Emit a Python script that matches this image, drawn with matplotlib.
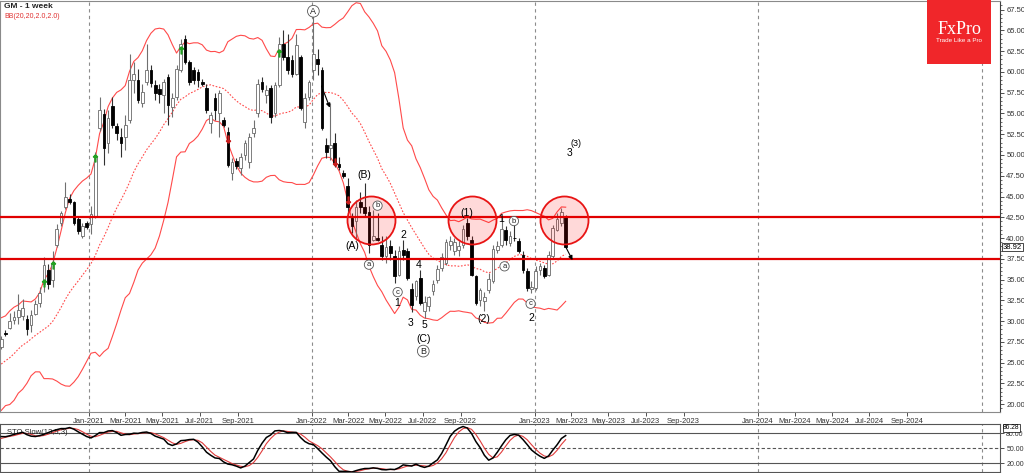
import numpy as np
import pandas as pd
import matplotlib
matplotlib.use("Agg")
import matplotlib.pyplot as plt
import matplotlib.dates as mdates

plt.rcParams['font.family'] = ['Liberation Sans', 'DejaVu Sans']

# ---------------- data (weekly GM bars) ----------------
first_week = "2020-08-10"
opens = [26.9, 28.5, 29.2, 30.1, 30.5, 30.6, 30.3, 29.5, 30.9, 32.2,
         34.5, 36.1, 34.9, 39.2, 41.8, 43.7, 44.7, 44.3, 42.3, 40.3,
         41.8, 41.7, 42.6, 53.2, 54.9, 51.4, 55.9, 53.5, 52.2, 52.2,
         54.2, 59.0, 59.0, 56.2, 58.8, 60.2, 58.4, 57.9, 57.2, 59.4,
         55.8, 57.0, 60.2, 63.9, 61.2, 60.2, 60.0, 58.8, 58.1, 53.8,
         56.8, 55.0, 54.2, 52.8, 47.8, 49.3, 48.4, 50.0, 49.2, 52.6,
         55.0, 58.8, 57.2, 58.1, 55.0, 58.4, 63.4, 61.8, 61.4, 59.8,
         61.8, 54.0, 57.0, 60.2, 61.6, 60.2, 51.2, 50.8, 51.5, 48.9,
         47.8, 46.3, 42.4, 42.0, 44.4, 43.7, 43.1, 39.8, 40.0, 39.2,
         37.8, 39.0, 37.8, 35.6, 38.6, 38.5, 33.9, 33.0, 35.2, 31.2,
         31.8, 33.6, 35.0, 36.4, 37.0, 39.2, 38.4, 38.6, 39.2, 41.8,
         39.8, 35.4, 32.6, 32.4, 33.8, 34.8, 38.6, 39.2, 41.0, 39.4,
         40.0, 39.6, 38.0, 36.0, 33.9, 34.0, 36.2, 36.4, 35.6, 37.9,
         41.0, 41.8, 42.6]
highs = [28.2, 28.9, 31.0, 31.2, 33.3, 32.7, 30.7, 31.3, 32.5, 34.1,
         37.7, 36.9, 38.5, 41.7, 43.3, 46.7, 45.3, 44.5, 42.5, 41.8,
         42.1, 43.9, 50.3, 57.0, 55.5, 55.4, 57.0, 53.9, 53.2, 54.8,
         62.2, 61.2, 60.4, 58.6, 63.4, 60.8, 59.0, 58.6, 59.2, 59.8,
         57.4, 60.8, 64.0, 64.4, 61.4, 60.6, 60.4, 59.2, 58.6, 55.2,
         57.4, 57.8, 54.6, 53.4, 49.6, 49.6, 50.2, 51.8, 52.6, 54.2,
         59.2, 59.4, 58.4, 58.4, 58.8, 64.2, 65.0, 64.6, 62.0, 64.6,
         62.0, 57.4, 59.0, 67.2, 62.8, 60.6, 52.0, 56.2, 52.6, 49.8,
         48.2, 47.2, 43.0, 44.6, 45.6, 46.6, 43.8, 43.4, 43.0, 40.2,
         40.2, 39.8, 38.6, 39.0, 39.8, 38.8, 34.6, 35.0, 36.1, 33.0,
         33.0, 34.9, 36.7, 38.2, 39.9, 40.2, 40.0, 39.6, 41.6, 42.4,
         40.2, 35.6, 34.0, 33.5, 35.8, 39.2, 39.6, 42.6, 41.4, 40.8,
         41.6, 40.0, 38.4, 36.4, 34.8, 36.6, 37.0, 36.8, 38.4, 41.6,
         43.0, 43.6, 42.8]
lows = [26.6, 28.2, 29.0, 29.6, 29.7, 30.1, 28.3, 28.7, 30.7, 31.7,
        33.5, 33.9, 34.1, 38.9, 41.4, 43.5, 44.1, 41.6, 40.5, 40.0,
        41.1, 40.5, 42.4, 52.9, 48.8, 50.2, 53.2, 51.8, 49.8, 50.6,
        53.8, 57.4, 56.2, 55.8, 58.4, 58.2, 56.6, 56.2, 55.0, 53.6,
        54.6, 56.6, 60.0, 60.9, 58.4, 58.6, 58.2, 58.3, 55.0, 52.6,
        54.2, 52.2, 53.4, 48.6, 47.0, 48.3, 47.6, 49.4, 48.4, 52.2,
        54.6, 57.6, 56.2, 53.8, 54.6, 58.2, 61.4, 59.8, 59.4, 59.6,
        55.4, 53.2, 56.6, 59.0, 59.6, 53.0, 49.6, 49.4, 48.6, 48.2,
        47.2, 43.0, 40.6, 39.8, 43.0, 42.6, 38.2, 39.6, 39.6, 37.4,
        37.0, 37.4, 34.6, 35.4, 37.4, 35.0, 31.1, 32.6, 32.0, 30.4,
        31.2, 33.2, 34.6, 36.0, 36.8, 38.6, 38.0, 37.8, 38.8, 39.8,
        35.4, 31.9, 31.8, 31.2, 33.4, 34.6, 38.2, 38.9, 39.2, 39.0,
        39.7, 38.2, 35.8, 33.6, 33.4, 33.8, 35.6, 35.2, 35.4, 37.6,
        40.8, 41.4, 38.8]
closes = [27.9, 28.45, 30.0, 30.5, 31.3, 31.6, 29.0, 30.7, 32.1, 33.4,
          36.8, 34.5, 36.9, 41.1, 43.0, 45.0, 44.3, 41.8, 40.9, 41.5,
          41.3, 42.9, 49.8, 55.4, 50.8, 54.4, 53.6, 52.7, 51.4, 53.6,
          59.0, 59.8, 56.6, 57.6, 60.2, 58.7, 57.5, 57.3, 58.8, 56.0,
          56.8, 60.4, 63.4, 61.2, 58.8, 59.0, 59.0, 58.6, 55.4, 54.8,
          55.4, 57.4, 53.6, 48.8, 49.2, 48.7, 49.8, 51.4, 52.2, 53.2,
          58.6, 58.0, 57.8, 54.6, 58.4, 63.4, 61.8, 60.2, 59.8, 63.2,
          55.6, 56.8, 58.8, 62.2, 61.0, 53.2, 50.3, 51.2, 49.0, 48.6,
          47.5, 43.8, 41.4, 43.8, 43.7, 43.0, 39.2, 40.2, 39.8, 37.8,
          38.9, 38.2, 35.4, 38.5, 38.0, 35.2, 31.9, 34.8, 32.2, 32.3,
          32.9, 34.5, 36.3, 37.7, 39.5, 39.7, 39.5, 39.1, 41.1, 40.2,
          35.6, 32.2, 33.7, 32.9, 35.1, 38.7, 39.1, 41.1, 39.8, 40.2,
          39.95, 38.4, 36.2, 34.0, 34.1, 36.0, 36.6, 35.4, 38.0, 41.2,
          42.3, 43.1, 38.92]

# weeks before the first visible bar (feed the indicators)
pre_highs = [21.9, 23.2, 23.3, 22.5, 22.8, 23.3, 23.2, 24.2, 26.3, 30.2,
             29.6, 27.5, 26.5, 26.0, 26.3, 27.9, 28.4, 28.6, 28.4]
pre_lows = [18.8, 20.2, 20.5, 19.8, 19.9, 21.2, 21.0, 21.8, 23.8, 25.5,
            26.0, 25.2, 23.8, 24.3, 24.8, 25.2, 26.8, 26.6, 26.9]
pre_closes = [20.4, 22.6, 21.0, 20.0, 22.2, 22.5, 22.0, 23.8, 25.9, 29.6,
              27.0, 26.0, 24.5, 25.5, 25.3, 27.5, 27.6, 28.0, 27.4]

sto_params = (13, 5, 3)   # K period, slowing, D period
bb_period, bb_dev = 20, 2.0

price_ticks = [20.0 + 2.5 * i for i in range(20)]
month_labels = ["Jan-2021", "Mar-2021", "May-2021", "Jul-2021", "Sep-2021",
                "Jan-2022", "Mar-2022", "May-2022", "Jul-2022", "Sep-2022",
                "Jan-2023", "Mar-2023", "May-2023", "Jul-2023", "Sep-2023",
                "Jan-2024", "Mar-2024", "May-2024", "Jul-2024", "Sep-2024"]
year_lines = ["2021-01-01", "2022-01-01", "2023-01-01", "2024-01-01", "2025-01-01"]
levels = [42.5, 37.5]
last_price = 38.92
sto_last = 86.28
sto_levels = [80, 50, 20]

# Elliott wave labels: (text, bar position, price, circled)
wave_labels = [
    ("A", 73.0, 67.3, True), ("(B)", 85.0, 47.6, False), ("b", 88.0, 43.9, True),
    ("(A)", 82.0, 39.0, False), ("a", 86.0, 36.8, True), ("2", 94.0, 40.4, False),
    ("c", 92.7, 33.5, True), ("1", 92.7, 32.2, False), ("4", 97.7, 36.8, False),
    ("3", 95.8, 29.8, False), ("5", 98.9, 29.5, False), ("(C)", 98.7, 27.9, False),
    ("B", 98.7, 26.4, True), ("(1)", 108.8, 43.05, False), ("(2)", 112.9, 30.3, False),
    ("1", 116.8, 42.3, False), ("b", 119.9, 42.05, True), ("a", 117.7, 36.6, True),
    ("c", 123.8, 32.1, True), ("2", 123.9, 30.35, False),
]
zone_circles = [86.4, 110.1, 131.7]       # bar positions of highlighted zones
zone_price = 42.2
arrows = [((74.9, 58.3), (76.85, 55.7)), ((131.9, 39.05), (133.6, 37.35))]
buy_signals = [(10, 34.6), (12, 36.8), (22, 49.6), (42, 62.6), (65, 62.3)]
sell_signals = [(53, 51.9), (78, 49.2), (81, 44.6)]

# ---------------- indicators ----------------
n_pre = len(pre_closes)
allC = pd.Series(pre_closes + closes, dtype=float)
allH = pd.Series(pre_highs + highs, dtype=float)
allL = pd.Series(pre_lows + lows, dtype=float)
mid = allC.rolling(bb_period, min_periods=1).mean()
sd = allC.rolling(bb_period, min_periods=1).std(ddof=0)
bb_mid = mid.values[n_pre:]
bb_up = (mid + bb_dev * sd).values[n_pre:]
bb_lo = (mid - bb_dev * sd).values[n_pre:]
kp, slow, dp = sto_params
hh = allH.rolling(kp, min_periods=1).max()
ll = allL.rolling(kp, min_periods=1).min()
sto_main = 100 * (allC - ll).rolling(slow, min_periods=1).sum() / (hh - ll).rolling(slow, min_periods=1).sum()
sto_sig = sto_main.rolling(dp, min_periods=1).mean()
sto_main = sto_main.values[n_pre:]
sto_sig = sto_sig.values[n_pre:]

# ---------------- figure ----------------
W, H = 1024, 473
fig = plt.figure(figsize=(W / 100, H / 100), dpi=100)
fig.patch.set_facecolor("white")


def px_axes(x0, y0, x1, y1):
    return fig.add_axes([x0 / W, 1 - y1 / H, (x1 - x0) / W, (y1 - y0) / H])


ax = px_axes(0, 1, 1000, 412)
ax2 = px_axes(0, 424, 1000, 472)

d0 = mdates.date2num(pd.Timestamp(first_week))
n = len(closes)
xs = d0 + 7 * np.arange(n)


def bx(b):
    return d0 + 7 * b


xmin = mdates.date2num(pd.Timestamp("2020-08-08"))
xmax = mdates.date2num(pd.Timestamp("2025-01-31"))
Y0, Y1 = 19.07, 68.53
S0, S1 = 2.6, 98.6

# vertical year separators
for a in (ax, ax2):
    for yl in year_lines:
        a.axvline(mdates.date2num(pd.Timestamp(yl)), color="#8c8c8c", lw=0.8,
                  ls=(0, (3, 3)), zorder=0)

# Bollinger bands
ax.plot(xs, bb_up, color="#ff4a4a", lw=0.8, zorder=2)
ax.plot(xs, bb_lo, color="#ff4a4a", lw=0.8, zorder=2)
ax.plot(xs, bb_mid, color="#ff4a4a", lw=0.8, ls=(0, (1.5, 1.5)), zorder=2)

# candles
o = np.array(opens); c = np.array(closes); h = np.array(highs); l = np.array(lows)
up = c >= o
ax.vlines(xs, l, h, colors=np.where(up, "#707070", "#303030"), lw=0.8, zorder=3)
body_w = 4.4
bot = np.minimum(o, c)
hgt = np.maximum(np.abs(c - o), 0.1)
ax.bar(xs[up], hgt[up], bottom=bot[up], width=body_w, color="white",
       edgecolor="#6a6a6a", linewidth=0.6, zorder=4)
ax.bar(xs[~up], hgt[~up], bottom=bot[~up], width=body_w, color="black",
       edgecolor="black", linewidth=0.6, zorder=4)

# signals
for b, p in buy_signals:
    ax.plot(bx(b), p, marker=r"$\uparrow$", color="#22a022", ms=5, zorder=5)
for b, p in sell_signals:
    ax.plot(bx(b), p, marker=r"$\downarrow$", color="#c81e1e", ms=5, zorder=5)

# horizontal levels
for lv in levels:
    ax.axhline(lv, color="#e00000", lw=1.6, zorder=6)

# highlighted zones
ax.scatter([bx(b) for b in zone_circles], [zone_price] * len(zone_circles),
           s=(48 * 0.72) ** 2, facecolor=(1, 0, 0, 0.15), edgecolor="#e81414",
           linewidth=1.3, zorder=7)

# arrows
for (b0, p0), (b1, p1) in arrows:
    ax.annotate("", xy=(bx(b1), p1), xytext=(bx(b0), p0),
                arrowprops=dict(arrowstyle="-|>", color="black", lw=0.8,
                                mutation_scale=6, shrinkA=0, shrinkB=0), zorder=8)

# wave labels
for t, b, p, circ in wave_labels:
    if circ:
        ax.text(bx(b), p, t, ha="center", va="center", fontsize=5.5 if t.islower() else 6.5,
                color="#222222", zorder=9,
                bbox=dict(boxstyle="circle,pad=0.15", fc="white", ec="#555555", lw=0.6))
    else:
        ax.text(bx(b), p, t, ha="center", va="center", fontsize=7.5, color="black", zorder=9)
ax.text(bx(132.9), 50.2, "3", ha="center", va="center", fontsize=7.5, zorder=9)
ax.text(bx(134.4), 51.35, "(3)", ha="center", va="center", fontsize=6.5, zorder=9)

ax.set_xlim(xmin, xmax)
ax.set_ylim(Y0, Y1)
ax2.set_xlim(xmin, xmax)
ax2.set_ylim(S0, S1)

# price axis
ax.yaxis.tick_right()
ax.set_yticks(price_ticks)
ax.set_yticklabels([f"{v:.2f}" for v in price_ticks])
ax.set_yticks(np.arange(19.5, 68.5, 0.5), minor=True)
ax.tick_params(axis="y", which="major", length=3, width=0.6, pad=1.5, labelsize=5.5,
               colors="#333333")
ax.tick_params(axis="y", which="minor", length=1.5, width=0.5, colors="#333333")
ax.text(1.003, (last_price - Y0) / (Y1 - Y0), f"{last_price:.2f}",
        transform=ax.transAxes, fontsize=5.5, va="center", ha="left", zorder=10,
        bbox=dict(boxstyle="square,pad=0.12", fc="white", ec="black", lw=0.5),
        clip_on=False)

# time axis
mpos = [mdates.date2num(pd.to_datetime(m, format="%b-%Y")) for m in month_labels]
ax.set_xticks(mpos)
ax.set_xticklabels(month_labels)
ax.tick_params(axis="x", length=3, width=0.6, pad=1, labelsize=5.5, colors="#333333")

for sp in ("left", "top", "bottom"):
    ax.spines[sp].set_color("#8a8a8a")
    ax.spines[sp].set_linewidth(0.8)
ax.spines["right"].set_color("#404040")
ax.spines["right"].set_linewidth(0.8)

# stochastic
ax2.plot(xs, sto_sig, color="#e03c3c", lw=0.8, zorder=3)
ax2.plot(xs, sto_main, color="black", lw=1.1, zorder=4)
for lv, ls in zip(sto_levels, ("-", (0, (3, 2)), "-")):
    ax2.axhline(lv, color="#555555", lw=0.8, ls=ls, zorder=1)
ax2.set_xticks([])
ax2.yaxis.tick_right()
ax2.set_yticks(sto_levels)
ax2.set_yticklabels([f"{v:.2f}" for v in sto_levels])
ax2.tick_params(axis="y", length=3, width=0.6, pad=1.5, labelsize=5, colors="#333333")
ax2.text(1.003, 0.92, f"{sto_last:.2f}", transform=ax2.transAxes,
         fontsize=4.8, va="center", ha="left",
         bbox=dict(boxstyle="square,pad=0.05", fc="white", ec="black", lw=0.5), clip_on=False)
for sp in ax2.spines.values():
    sp.set_color("#555555")
    sp.set_linewidth(0.8)
ax2.text(0.007, 0.83, "STO Slow(13,5,3)", transform=ax2.transAxes, fontsize=5.5,
         color="#222222", va="center", ha="left")

# header texts
fig.text(4 / W, 1 - 7 / H, "GM - 1 week", fontsize=6, fontweight="bold", color="#222222",
         va="center", ha="left")
fig.text(4 / W, 1 - 16 / H, f"BB({bb_period},{bb_period},{bb_dev:.1f},{bb_dev:.1f})",
         fontsize=5, color="#e03030", va="center", ha="left")

# logo
fig.patches.append(matplotlib.patches.Rectangle((927 / W, 1 - 64 / H), 64 / W, 64 / H,
                                                transform=fig.transFigure, fc="#f0262a",
                                                ec="none", zorder=20))
fig.text(959 / W, 1 - 29 / H, "FxPro", fontsize=13, color="white", family="Liberation Serif",
         ha="center", va="center", zorder=21)
fig.text(959 / W, 1 - 41 / H, "Trade Like a Pro", fontsize=4.5, color="white",
         ha="center", va="center", zorder=21)

fig.savefig("out.png", dpi=100, facecolor="white")
